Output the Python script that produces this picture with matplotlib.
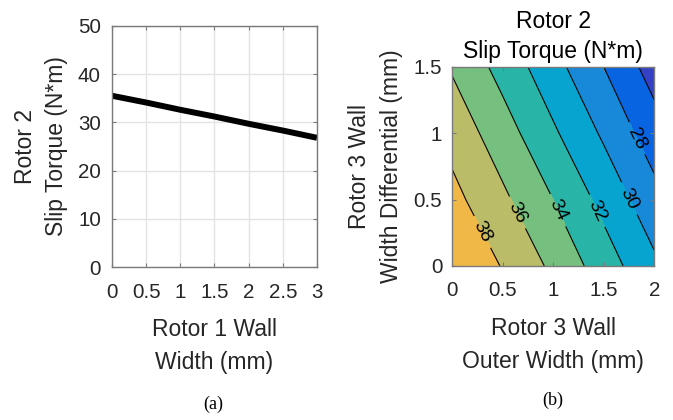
import numpy as np
import matplotlib
matplotlib.use("Agg")
import matplotlib.pyplot as plt

# ---- data: panel (a) ----
wall_width = [0, 0.5, 1, 1.5, 2, 2.5, 3]
slip_torque_a = [35.5, 34.1, 32.6, 31.2, 29.7, 28.3, 26.8]

# ---- data: panel (b) ----
outer_width = [0, 0.5, 1, 1.5, 2]
width_diff = [0, 0.5, 1, 1.5]
slip_torque_b = [
    [39.8, 37.9, 35.6, 33.0, 30.4],
    [38.6, 36.4, 34.0, 31.4, 28.7],
    [37.3, 34.9, 32.3, 29.7, 26.9],
    [35.8, 33.3, 30.7, 28.0, 25.1],
]
levels = [24, 26, 28, 30, 32, 34, 36, 38, 40]
unlabeled_levels = [26]
label_levels = [28, 30, 32, 34, 36, 38]
label_pos = [(1.80, 0.95), (1.73, 0.50), (1.42, 0.41), (1.02, 0.41), (0.64, 0.40), (0.31, 0.26)]

band_colors = ['#3541C4', '#0864E0', '#1888D8', '#07A4CF', '#28B4A6',
               '#76C07F', '#BBBC67', '#F0B847']

plt.rcParams['font.family'] = ['Liberation Sans', 'DejaVu Sans']
tick_fs = 14.8
lab_fs = 16.5
txt_col = '#262626'
spine_col = '#7a7a7a'

fig = plt.figure(figsize=(6.73, 4.2), dpi=100)

# ---- panel (a) ----
ax1 = fig.add_axes([0.1664, 0.3636, 0.3046, 0.5752])
ax1.plot(wall_width, slip_torque_a, color='black', lw=4.3, solid_capstyle='butt')
ax1.set_xlim(0, 3)
ax1.set_ylim(0, 50)
ax1.set_xticks([0, 0.5, 1, 1.5, 2, 2.5, 3])
ax1.set_xticklabels(['0', '0.5', '1', '1.5', '2', '2.5', '3'])
ax1.set_yticks([0, 10, 20, 30, 40, 50])
ax1.grid(True, color='#e3e3e3', lw=1.0)
ax1.set_axisbelow(True)
ax1.tick_params(axis='x', direction='in', length=3, pad=11, labelsize=tick_fs,
                colors=spine_col, labelcolor=txt_col, top=True)
ax1.tick_params(axis='y', direction='in', length=3, pad=8, labelsize=tick_fs,
                colors=spine_col, labelcolor=txt_col, right=True)
for s in ax1.spines.values():
    s.set_color(spine_col)
    s.set_linewidth(1.0)
ax1.set_xlabel('Rotor 1 Wall\nWidth (mm)', fontsize=lab_fs, color=txt_col,
               linespacing=1.55, labelpad=12)
ax1.set_ylabel('Rotor 2\nSlip Torque (N*m)', fontsize=lab_fs, color=txt_col,
               linespacing=1.45, labelpad=7)

# ---- panel (b) ----
ax2 = fig.add_axes([0.6716, 0.3667, 0.3006, 0.4745])
X, Y = np.meshgrid(outer_width, width_diff)
Z = np.array(slip_torque_b)
ax2.contourf(X, Y, Z, levels=levels, colors=band_colors)
ax2.contour(X, Y, Z, levels=unlabeled_levels, colors='black', linewidths=0.8)
cs = ax2.contour(X, Y, Z, levels=label_levels, colors='black', linewidths=0.8)
ax2.clabel(cs, manual=label_pos, inline=True,
           fontsize=14, colors='black', inline_spacing=7, fmt='%d')
ax2.set_xlim(0, 2)
ax2.set_ylim(0, 1.5)
ax2.set_xticks([0, 0.5, 1, 1.5, 2])
ax2.set_xticklabels(['0', '0.5', '1', '1.5', '2'])
ax2.set_yticks([0, 0.5, 1, 1.5])
ax2.set_yticklabels(['0', '0.5', '1', '1.5'])
ax2.tick_params(axis='x', direction='in', length=3, pad=11, labelsize=tick_fs,
                colors=spine_col, labelcolor=txt_col, top=True)
ax2.tick_params(axis='y', direction='in', length=3, pad=7, labelsize=tick_fs,
                colors=spine_col, labelcolor=txt_col, right=True)
for s in ax2.spines.values():
    s.set_color(spine_col)
    s.set_linewidth(1.0)
ax2.set_xlabel('Rotor 3 Wall\nOuter Width (mm)', fontsize=lab_fs, color=txt_col,
               linespacing=1.55, labelpad=12)
ax2.set_ylabel('Rotor 3 Wall\nWidth Differential (mm)', fontsize=lab_fs, color=txt_col,
               linespacing=1.45, labelpad=8)
ax2.set_title('Rotor 2\nSlip Torque (N*m)', fontsize=lab_fs, color='black',
              linespacing=1.4, pad=6)

# ---- panel captions ----
fig.text(213 / 673, 1 - 404 / 420, '(a)', ha='center', va='center',
         fontsize=13, family='Liberation Serif', color='black')
fig.text(553 / 673, 1 - 400 / 420, '(b)', ha='center', va='center',
         fontsize=13, family='Liberation Serif', color='black')

fig.savefig('out.png', dpi=100)
